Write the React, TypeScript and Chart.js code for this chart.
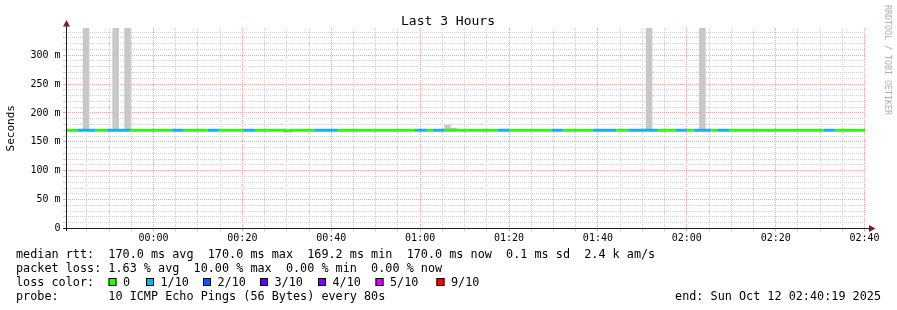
import React, { useEffect, useRef } from "react";
import { Chart, registerables } from "chart.js";

Chart.register(...registerables);

// ---------- data (seconds are relative to 00:00 on Oct 12) ----------
const stepSeconds = 80;
const firstStepStart = -1190; // 23:40:10
const viewStart = -1181; // 23:40:19
const viewEnd = 9619; // 02:40:19

// packets lost (out of 10) per 80 s step
const lossPerStep = [
  0, 0, 1, 1, 1, 0, 0, 1, 1, 1, 1, 0, 0, 0, 0, 0, 0, 0, 1, 1,
  0, 0, 0, 0, 1, 1, 0, 0, 0, 0, 1, 1, 0, 0, 0, 0, 0, 0, 0, 0,
  0, 0, 1, 1, 1, 1, 0, 0, 0, 0, 0, 0, 0, 0, 0, 0, 0, 0, 0, 1,
  1, 0, 1, 1, 0, 0, 0, 0, 0, 0, 0, 0, 0, 1, 1, 0, 0, 0, 0, 0,
  0, 0, 1, 1, 0, 0, 0, 0, 0, 1, 1, 1, 1, 0, 0, 1, 1, 1, 1, 1,
  0, 0, 0, 1, 1, 0, 1, 1, 1, 0, 1, 1, 0, 0, 0, 0, 0, 0, 0, 0,
  0, 0, 0, 0, 0, 0, 0, 0, 1, 1, 0, 0, 0, 0, 0,
];

// median rtt (ms) per step
const medianPerStep = [
  170, 170, 170, 170, 170, 170, 170, 170, 170, 170, 170, 170, 170, 170, 170,
  170, 170, 170, 170, 170, 170, 170, 170, 170, 170, 170, 170, 170, 170, 170,
  170, 170, 170, 170, 170, 170, 170, 169.2, 170, 170, 170, 170, 170, 170, 170,
  170, 170, 170, 170, 170, 170, 170, 170, 170, 170, 170, 170, 170, 170, 170,
  170, 170, 170, 170, 170, 170, 170, 170, 170, 170, 170, 170, 170, 170, 170,
  170, 170, 170, 170, 170, 170, 170, 170, 170, 170, 170, 170, 170, 170, 170,
  170, 170, 170, 170, 170, 170, 170, 170, 170, 170, 170, 170, 170, 170, 170,
  170, 170, 170, 170, 170, 170, 170, 170, 170, 170, 170, 170, 170, 170, 170,
  170, 170, 170, 170, 170, 170, 170, 170, 170, 170, 170, 170, 170, 170, 170,
];

// smoke (ping spread) for the steps where it is visible
const smokeSteps = [3, 8, 10, 64, 65, 98, 107];
const smokeLow = [170, 170, 170, 170, 170, 170, 170];
const smokeHigh = [360, 360, 360, 179, 174, 360, 360];

const lossLabels = ["0", "1/10", "2/10", "3/10", "4/10", "5/10", "9/10"];
const lossColors = ["#26ff00", "#00b8ff", "#0059ff", "#5e00ff", "#7e00ff", "#dd00ff", "#ff0000"];

const xTickLabels = ["00:00", "00:20", "00:40", "01:00", "01:20", "01:40", "02:00", "02:20", "02:40"];
const yTickValues = [0, 50, 100, 150, 200, 250, 300];
const yTickLabels = ["0", "50 m", "100 m", "150 m", "200 m", "250 m", "300 m"];
const yMax = 347;

const chartTitle = "Last 3 Hours";
const yTitle = "Seconds";
const medianLine = "median rtt:  170.0 ms avg  170.0 ms max  169.2 ms min  170.0 ms now  0.1 ms sd  2.4 k am/s";
const lossLine = "packet loss: 1.63 % avg  10.00 % max  0.00 % min  0.00 % now";
const lossColorTitle = "loss color:";
const probeLine = "probe:       10 ICMP Echo Pings (56 Bytes) every 80s";
const endLine = "end: Sun Oct 12 02:40:19 2025";
const watermark = "RRDTOOL / TOBI OETIKER";

// ---------- helpers ----------
const MONO = "'DejaVu Sans Mono', monospace";
const xTickValues = xTickLabels.map((l) => {
  const [h, m] = l.split(":").map(Number);
  return h * 3600 + m * 60;
});
const lossColorIndex = (n: number) => (n >= 9 ? 6 : n >= 5 ? 5 : n);
const MINOR = "#d2d2d2";
const MAJOR = "#f0a6a6";

const rrdPlugin = {
  id: "rrdDecor",
  afterDraw(chart: any) {
    const ctx = chart.ctx as CanvasRenderingContext2D;
    const a = chart.chartArea;
    const ay = Math.floor(a.bottom) + 0.5;
    const ax = Math.floor(a.left) + 0.5;
    ctx.save();
    // title
    ctx.fillStyle = "#000";
    ctx.font = `13px ${MONO}`;
    ctx.textAlign = "center";
    ctx.textBaseline = "alphabetic";
    ctx.fillText(chartTitle, 448, 24.5);

    // axes
    ctx.strokeStyle = "#1f1f1f";
    ctx.lineWidth = 1;
    ctx.beginPath();
    ctx.moveTo(a.left - 3, ay);
    ctx.lineTo(a.right + 4, ay);
    ctx.moveTo(ax, a.bottom + 2.5);
    ctx.lineTo(ax, a.top - 4);
    ctx.stroke();
    // arrows
    ctx.fillStyle = "#7f1f1f";
    ctx.beginPath();
    ctx.moveTo(a.right + 3, ay - 3.5);
    ctx.lineTo(a.right + 9.5, ay);
    ctx.lineTo(a.right + 3, ay + 3.5);
    ctx.closePath();
    ctx.fill();
    ctx.beginPath();
    ctx.moveTo(ax - 3.5, a.top - 1.5);
    ctx.lineTo(ax, a.top - 8);
    ctx.lineTo(ax + 3.5, a.top - 1.5);
    ctx.closePath();
    ctx.fill();

    // legend text
    ctx.fillStyle = "#000";
    ctx.font = `11.8px ${MONO}`;
    ctx.textAlign = "left";
    ctx.textBaseline = "alphabetic";
    const x0 = 16;
    ctx.fillText(medianLine, x0, 258.3);
    ctx.fillText(lossLine, x0, 272.3);
    ctx.fillText(lossColorTitle, x0, 286.3);
    ctx.fillText(probeLine, x0, 300.3);
    const boxX = [108.5, 146, 203, 260, 318, 375.5, 436.5];
    lossLabels.forEach((lab, i) => {
      const bx = boxX[i];
      ctx.fillStyle = lossColors[i];
      ctx.fillRect(bx, 278, 8, 8);
      ctx.strokeStyle = "#000";
      ctx.strokeRect(bx + 0.5, 278.5, 7, 7);
      ctx.fillStyle = "#000";
      ctx.fillText(lab, bx + 14.5, 286.3);
    });
    ctx.textAlign = "right";
    ctx.fillText(endLine, 881, 300.3);

    // watermark
    ctx.translate(887.5, 5);
    ctx.rotate(Math.PI / 2);
    ctx.font = `8.3px ${MONO}`;
    ctx.fillStyle = "#b0b0b0";
    ctx.textAlign = "left";
    ctx.textBaseline = "middle";
    ctx.fillText(watermark, 0, 0);
    ctx.restore();
  },
};

export default function App() {
  const ref = useRef<HTMLCanvasElement>(null);

  useEffect(() => {
    const canvas = ref.current;
    if (!canvas) return;
    const stepStart = (i: number) => firstStepStart + i * stepSeconds;

    const lineData = medianPerStep.map((v, i) => ({ x: stepStart(i), y: v }));
    lineData.push({ x: stepStart(medianPerStep.length), y: medianPerStep[medianPerStep.length - 1] });

    const smokeData = smokeSteps.map((s, i) => ({
      x: stepStart(s) + stepSeconds / 2,
      y: [smokeLow[i], smokeHigh[i]],
    }));

    const chart = new Chart(canvas, {
      type: "bar",
      data: {
        datasets: [
          {
            type: "bar",
            data: smokeData as any,
            backgroundColor: "#c8c8c8",
            borderWidth: 0,
            barPercentage: 1,
            categoryPercentage: 1,
            grouped: false,
            order: 2,
          } as any,
          {
            type: "line",
            data: lineData as any,
            stepped: "before",
            borderWidth: 3,
            borderCapStyle: "butt",
            pointRadius: 0,
            borderColor: lossColors[0],
            clip: 0,
            segment: {
              borderColor: (c: any) => lossColors[lossColorIndex(lossPerStep[c.p0DataIndex] ?? 0)],
            },
            order: 1,
          } as any,
        ],
      },
      plugins: [rrdPlugin],
      options: {
        responsive: false,
        animation: false,
        devicePixelRatio: 1,
        layout: { padding: { left: 0, right: 31, top: 28, bottom: 61.5 } },
        plugins: {
          legend: { display: false },
          tooltip: { enabled: false },
          title: { display: false },
        },
        scales: {
          x: {
            type: "linear",
            min: viewStart,
            max: viewEnd,
            offset: false,
            afterBuildTicks: (scale: any) => {
              const ticks = [];
              for (let t = Math.ceil(viewStart / 300) * 300; t <= viewEnd; t += 300) ticks.push({ value: t });
              scale.ticks = ticks;
            },
            afterFit: (scale: any) => {
              scale.height = 20;
            },
            grid: {
              offset: false,
              lineWidth: 1,
              drawTicks: true,
              tickLength: 3,
              color: (c: any) => (c.tick && xTickValues.includes(c.tick.value) ? MAJOR : MINOR),
            },
            border: { display: false, dash: [1, 1] },
            ticks: {
              autoSkip: false,
              maxRotation: 0,
              minRotation: 0,
              padding: 1,
              color: "#000",
              font: { family: MONO, size: 10 },
              callback: (v: any) => {
                const i = xTickValues.indexOf(Number(v));
                return i >= 0 ? xTickLabels[i] : "";
              },
            },
          },
          y: {
            type: "linear",
            min: 0,
            max: yMax,
            afterBuildTicks: (scale: any) => {
              const ticks = [];
              for (let v = 0; v <= yMax; v += 10) ticks.push({ value: v });
              scale.ticks = ticks;
            },
            afterFit: (scale: any) => {
              scale.width = 66;
            },
            title: {
              display: true,
              text: yTitle,
              color: "#000",
              font: { family: MONO, size: 11 },
              padding: { top: 4.4, bottom: 0 },
            },
            grid: {
              lineWidth: 1,
              drawTicks: true,
              tickLength: 3,
              color: (c: any) => (c.tick && c.tick.value % 50 === 0 ? MAJOR : MINOR),
            },
            border: { display: false, dash: [1, 1] },
            ticks: {
              autoSkip: false,
              padding: 2.5,
              color: "#000",
              font: { family: MONO, size: 10 },
              callback: (v: any) => {
                const i = yTickValues.indexOf(Number(v));
                return i >= 0 ? yTickLabels[i] : "";
              },
            },
          },
        },
      } as any,
    });

    return () => chart.destroy();
  }, []);

  return (
    <div style={{ position: "absolute", left: 0, top: 0, width: 897, height: 310, background: "#fff" }}>
      <canvas ref={ref} width={897} height={310} style={{ display: "block" }} />
    </div>
  );
}
